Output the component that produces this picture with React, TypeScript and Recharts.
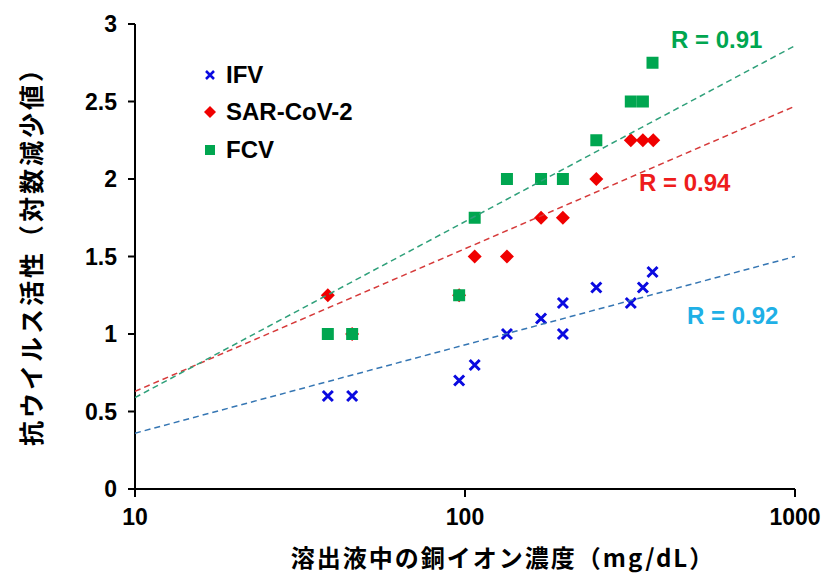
import React from 'react';
import { ScatterChart, Scatter, XAxis, YAxis, Label } from 'recharts';

// copper ion concentration (mg/dL) and log reduction per virus
const concIFV = [38.4, 45.5, 96, 107, 134, 170, 198, 198, 250, 318, 346, 370];
const valIFV = [0.6, 0.6, 0.7, 0.8, 1.0, 1.1, 1.2, 1.0, 1.3, 1.2, 1.3, 1.4];
const concSARS = [38.4, 45.5, 96, 107, 134, 170, 198, 250, 318, 346, 372];
const valSARS = [1.25, 1.0, 1.25, 1.5, 1.5, 1.75, 1.75, 2.0, 2.25, 2.25, 2.25];
const concFCV = [38.4, 45.5, 96, 107, 134, 170, 198, 250, 318, 346, 370];
const valFCV = [1.0, 1.0, 1.25, 1.75, 2.0, 2.0, 2.0, 2.25, 2.5, 2.5, 2.75];

// dashed trend lines (end points)
const trendX = [10, 1000];
const trendIFV = [0.36, 1.5];
const trendSARS = [0.63, 2.47];
const trendFCV = [0.59, 2.86];

const xTicks = [10, 100, 1000];
const yTicks = [0, 0.5, 1, 1.5, 2, 2.5, 3];

const rLabels = [
  { text: 'R = 0.91', color: '#00a650', left: 671, top: 26 },
  { text: 'R = 0.94', color: '#ee1c1c', left: 639, top: 169 },
  { text: 'R = 0.92', color: '#1fb0e6', left: 687, top: 302 },
];

const legendItems = [
  { name: 'IFV', kind: 'x', color: '#0a0ae0' },
  { name: 'SAR-CoV-2', kind: 'diamond', color: '#f00000' },
  { name: 'FCV', kind: 'square', color: '#00a650' },
];

const zip = (xs: number[], ys: number[]) => xs.map((x, i) => ({ x, y: ys[i] }));

const FONT = '"Liberation Sans", Arial, sans-serif';
const JP = '"Noto Sans CJK JP", "Noto Sans CJK SC", sans-serif';

const Cross = (p: any) => {
  const r = 5;
  return (
    <path
      d={`M${p.cx - r},${p.cy - r}L${p.cx + r},${p.cy + r}M${p.cx - r},${p.cy + r}L${p.cx + r},${p.cy - r}`}
      stroke="#0a0ae0"
      strokeWidth={3}
    />
  );
};

const Diamond = (p: any) => {
  const r = 7;
  return <path d={`M${p.cx},${p.cy - r}L${p.cx + r},${p.cy}L${p.cx},${p.cy + r}L${p.cx - r},${p.cy}Z`} fill="#f00000" />;
};

const Square = (p: any) => <rect x={p.cx - 6} y={p.cy - 6} width={12} height={12} fill="#00a650" />;

const NoDot = () => <g />;

function LegendBox() {
  return (
    <div style={{ position: 'absolute', left: 200, top: 56, fontFamily: FONT, fontWeight: 700, fontSize: 24 }}>
      {legendItems.map((it) => (
        <div key={it.name} style={{ display: 'flex', alignItems: 'center', height: 37.5 }}>
          <svg width={20} height={20} style={{ marginRight: 6 }}>
            {it.kind === 'x' && <path d="M6,6L14,14M6,14L14,6" stroke={it.color} strokeWidth={2.5} />}
            {it.kind === 'diamond' && <path d="M10,4L16,10L10,16L4,10Z" fill={it.color} />}
            {it.kind === 'square' && <rect x={5} y={5} width={10} height={10} fill={it.color} />}
          </svg>
          <span style={{ color: '#000' }}>{it.name}</span>
        </div>
      ))}
    </div>
  );
}

export default function App() {
  const tickStyle = { fontFamily: FONT, fontWeight: 700, fontSize: 23, fill: '#000' };
  return (
    <div style={{ position: 'absolute', left: 0, top: 0, width: 829, height: 573, background: '#fff' }}>
      <ScatterChart width={829} height={573} margin={{ top: 24, right: 34, left: 0, bottom: 0 }}>
        <XAxis
          type="number"
          dataKey="x"
          scale="log"
          domain={[10, 1000]}
          ticks={xTicks}
          allowDataOverflow
          height={84}
          stroke="#000"
          strokeWidth={2}
          tickSize={8}
          tickMargin={12}
          tick={tickStyle}
        >
          <Label
            content={() => (
              <text x={503} y={556} textAnchor="middle" dominantBaseline="central" fontFamily={JP} fontWeight={700} fontSize={24} letterSpacing={2} fill="#000">
                溶出液中の銅イオン濃度（mg/dL）
              </text>
            )}
          />
        </XAxis>
        <YAxis
          type="number"
          dataKey="y"
          domain={[0, 3]}
          ticks={yTicks}
          width={135}
          stroke="#000"
          strokeWidth={2}
          tickSize={7}
          tickMargin={11}
          tick={tickStyle}
        >
          <Label
            content={() => (
              <text
                x={30}
                y={250}
                transform="rotate(-90 30 250)"
                textAnchor="middle"
                dominantBaseline="central"
                fontFamily={JP}
                fontWeight={700}
                fontSize={25}
                letterSpacing={3}
                fill="#000"
              >
                抗ウイルス活性（対数減少値）
              </text>
            )}
          />
        </YAxis>
        <Scatter name="IFV" data={zip(concIFV, valIFV)} shape={Cross} isAnimationActive={false} />
        <Scatter name="SAR-CoV-2" data={zip(concSARS, valSARS)} shape={Diamond} isAnimationActive={false} />
        <Scatter name="FCV" data={zip(concFCV, valFCV)} shape={Square} isAnimationActive={false} />
        <Scatter
          name="trendIFV"
          data={zip(trendX, trendIFV)}
          shape={NoDot}
          line={{ stroke: '#3576b3', strokeWidth: 1.5, strokeDasharray: '6 4' }}
          legendType="none"
          isAnimationActive={false}
        />
        <Scatter
          name="trendSARS"
          data={zip(trendX, trendSARS)}
          shape={NoDot}
          line={{ stroke: '#d63a3a', strokeWidth: 1.5, strokeDasharray: '6 4' }}
          legendType="none"
          isAnimationActive={false}
        />
        <Scatter
          name="trendFCV"
          data={zip(trendX, trendFCV)}
          shape={NoDot}
          line={{ stroke: '#2fa07a', strokeWidth: 1.5, strokeDasharray: '6 4' }}
          legendType="none"
          isAnimationActive={false}
        />
      </ScatterChart>
      <LegendBox />
      {rLabels.map((r) => (
        <div
          key={r.text}
          style={{
            position: 'absolute',
            left: r.left,
            top: r.top,
            fontFamily: FONT,
            fontWeight: 700,
            fontSize: 24,
            color: r.color,
            lineHeight: '28px',
            whiteSpace: 'nowrap',
          }}
        >
          {r.text}
        </div>
      ))}
    </div>
  );
}
